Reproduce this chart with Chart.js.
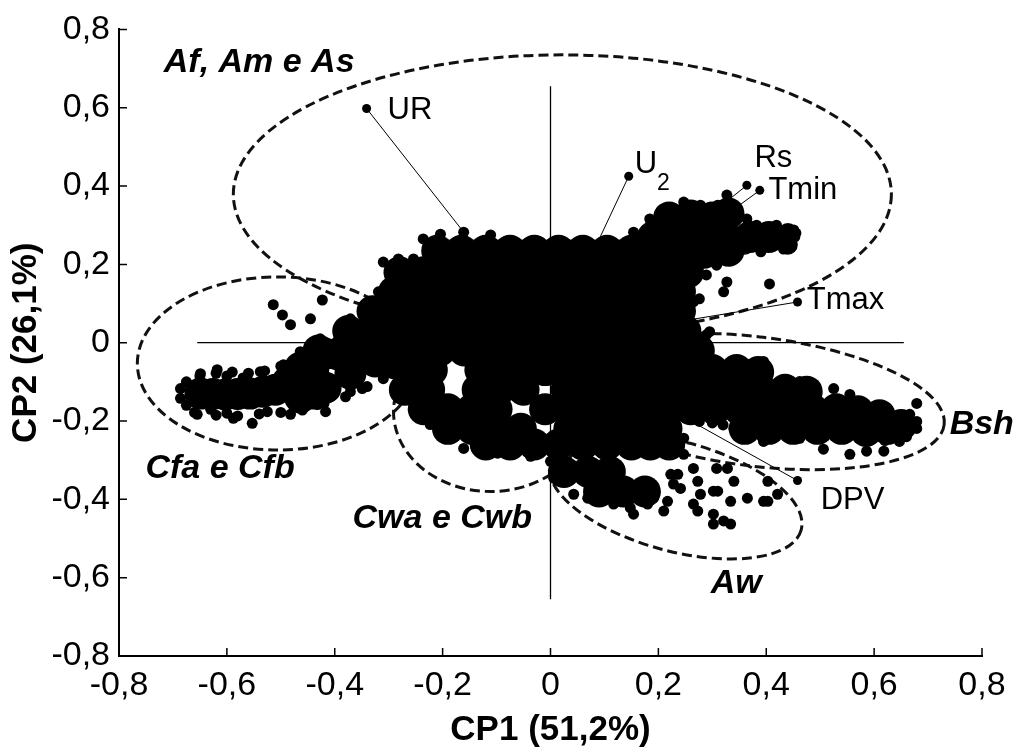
<!DOCTYPE html>
<html><head><meta charset="utf-8">
<script src="https://cdn.jsdelivr.net/npm/chart.js@4.4.1/dist/chart.umd.min.js"></script>
<style>html,body{margin:0;padding:0;background:#fff}canvas{display:block}</style>
</head><body>
<canvas id="c" width="1016" height="751"></canvas>
<script>
// ---------- tick values ----------
const xTickValues = [-0.8,-0.6,-0.4,-0.2,0,0.2,0.4,0.6,0.8];
const yTickValues = [-0.8,-0.6,-0.4,-0.2,0,0.2,0.4,0.6,0.8];

// ---------- variable loadings (vectors) ----------
const varNames = ['UR','U2','Rs','Tmin','Tmax','DPV'];
const loadX = [-0.341, 0.145, 0.364, 0.388, 0.458, 0.458];
const loadY = [ 0.598, 0.425, 0.402, 0.389, 0.104, -0.352];

// ---------- climate group names ----------
const groupNames = ['Af, Am e As','Cfa e Cfb','Cwa e Cwb','Bsh','Aw'];

// ---------- PCA scores (dense clusters) ----------
const cfaFill = [[-0.649,-0.13],[-0.626,-0.131],[-0.603,-0.132],[-0.58,-0.131],[-0.557,-0.13],[-0.533,-0.125],[-0.510,-0.12],
 [-0.487,-0.10],[-0.464,-0.064],[-0.464,-0.14],[-0.44,-0.07],[-0.44,-0.13],[-0.417,-0.028],[-0.417,-0.115],[-0.394,-0.03],
 [-0.371,0.018],[-0.371,-0.079],[-0.348,0.0],[-0.325,0.053],[-0.325,-0.048],[-0.30,0.07],[-0.30,-0.05]];
const armFill = [[0.22,0.32],[0.26,0.325],[0.30,0.32],[0.33,0.33],
 [0.19,0.27],[0.235,0.27],[0.28,0.27],[0.325,0.27],[0.37,0.27],[0.405,0.27],
 [0.195,0.23],[0.24,0.23],[0.285,0.23],[0.33,0.235]];
const armMid = [[0.36,0.25],[0.39,0.255],[0.425,0.265],[0.44,0.28],[0.44,0.25]];
const coreFill = [
 [-0.21,0.235],[-0.165,0.235],[-0.12,0.235],[-0.075,0.235],[-0.03,0.235],[0.015,0.235],[0.06,0.235],[0.105,0.235],[0.15,0.235],
 [-0.28,0.18],[-0.235,0.18],[-0.19,0.18],[-0.145,0.18],[-0.10,0.18],[-0.055,0.18],[-0.01,0.18],[0.035,0.18],[0.08,0.18],[0.125,0.18],[0.17,0.18],[0.215,0.18],[0.255,0.18],
 [-0.29,0.13],[-0.245,0.13],[-0.20,0.13],[-0.155,0.13],[-0.11,0.13],[-0.065,0.13],[-0.02,0.13],[0.025,0.13],[0.07,0.13],[0.115,0.13],[0.16,0.13],[0.205,0.13],[0.24,0.13],
 [-0.33,0.08],[-0.285,0.08],[-0.24,0.08],[-0.195,0.08],[-0.15,0.08],[-0.105,0.08],[-0.06,0.08],[-0.015,0.08],[0.03,0.08],[0.075,0.08],[0.12,0.08],[0.165,0.08],[0.21,0.08],[0.24,0.08],
 [-0.375,0.03],[-0.33,0.03],[-0.285,0.03],[-0.24,0.03],[-0.195,0.03],[-0.15,0.03],[-0.105,0.03],[-0.06,0.03],[-0.015,0.03],[0.03,0.03],[0.075,0.03],[0.12,0.03],[0.165,0.03],[0.21,0.03],[0.25,0.03],
 [-0.43,-0.02],[-0.385,-0.02],[-0.34,-0.02],[-0.295,-0.02],[-0.25,-0.02],[-0.205,-0.02],[-0.16,-0.02],[-0.115,-0.02],[-0.07,-0.02],[-0.025,-0.02],[0.02,-0.02],[0.065,-0.02],[0.11,-0.02],[0.155,-0.02],[0.20,-0.02],[0.245,-0.02],[0.275,-0.02],
 [-0.265,-0.07],[-0.22,-0.07],[-0.13,-0.07],[-0.10,-0.07],[-0.055,-0.07],[-0.01,-0.07],[0.035,-0.07],[0.08,-0.07],[0.125,-0.07],[0.17,-0.07],[0.215,-0.07],[0.26,-0.07],
 [-0.27,-0.12],[-0.225,-0.12],[-0.135,-0.12],[-0.095,-0.12],[-0.05,-0.12],[0.03,-0.12],[0.075,-0.12],[0.12,-0.12],[0.165,-0.12],[0.21,-0.12],[0.255,-0.12],
 [-0.235,-0.17],[-0.19,-0.17],[-0.145,-0.17],[-0.10,-0.17],[-0.01,-0.17],[0.035,-0.17],[0.08,-0.17],[0.125,-0.17],[0.17,-0.17],[0.215,-0.17],[0.26,-0.17],
 [-0.19,-0.22],[-0.145,-0.22],[-0.10,-0.22],[-0.055,-0.22],[0.035,-0.22],[0.08,-0.22],[0.125,-0.22],[0.17,-0.22],[0.215,-0.22],
 [-0.12,-0.26],[-0.075,-0.26],[-0.03,-0.26],[0.015,-0.26],[0.06,-0.26],[0.105,-0.26],[0.15,-0.26],[0.185,-0.26],[0.22,-0.26]];
const bshFill = [[0.30,-0.07],[0.345,-0.07],[0.385,-0.075],
 [0.30,-0.12],[0.345,-0.12],[0.39,-0.12],[0.435,-0.12],[0.475,-0.125],
 [0.305,-0.17],[0.35,-0.17],[0.395,-0.17],[0.44,-0.17],[0.485,-0.17],[0.53,-0.17],[0.57,-0.175],[0.61,-0.185],
 [0.36,-0.22],[0.405,-0.22],[0.45,-0.22],[0.495,-0.22],[0.54,-0.22],[0.585,-0.225],[0.625,-0.22],[0.65,-0.21]];
const awFill = [[0.025,-0.33],[0.07,-0.33],[0.11,-0.33],[0.09,-0.38],[0.135,-0.38],[0.175,-0.38]];

const cfaPts = [[-0.686,-0.117],[-0.686,-0.142],[-0.655,-0.183],[-0.649,-0.079],[-0.618,-0.069],[-0.588,-0.193],[-0.553,-0.206],
 [-0.538,-0.074],[-0.495,-0.056],[-0.514,0.097],[-0.497,0.071],[-0.482,0.046],[-0.464,-0.023],[-0.445,0.061],[-0.423,0.109],
 [-0.427,0.010],[-0.417,-0.176],[-0.371,0.061],[-0.349,-0.117],[-0.319,0.130],[-0.310,0.206],[-0.282,0.214],[-0.254,0.214],
 [-0.525,-0.176],[-0.482,-0.183],[-0.432,-0.158],[-0.371,-0.125],[-0.310,-0.092],[-0.60,-0.18],[-0.63,-0.17],[-0.57,-0.09],[-0.60,-0.085],
 [-0.65,-0.085],[-0.62,-0.078],[-0.59,-0.075],[-0.56,-0.078],[-0.53,-0.072],[-0.50,-0.06],[-0.66,-0.178],[-0.62,-0.185],[-0.58,-0.187],
 [-0.54,-0.182],[-0.50,-0.178],[-0.46,-0.172],[-0.42,-0.155],[-0.38,-0.138],[-0.34,-0.112],[-0.675,-0.16],[-0.675,-0.1]];
const corePts = [[-0.236,0.265],[-0.204,0.277],[-0.161,0.282],[-0.111,0.275],[-0.056,0.249],[-0.019,0.257],[0.032,0.249],[0.061,0.257],
 [0.093,0.252],[0.124,0.249],[0.154,0.282],[0.186,0.308],[0.184,0.316],[0.217,0.341],[0.247,0.359],[0.278,0.351],[0.310,0.351],
 [0.327,0.377],[0.345,0.341],[0.364,0.316],[0.382,0.300],[0.419,0.300],[0.451,0.288],[0.453,0.270],[0.432,0.239],[0.390,0.232],
 [0.340,0.214],[0.308,0.198],[0.276,0.198],[0.40,0.29],[0.455,0.28]];
const rightPts = [[0.289,0.173],[0.327,0.155],[0.406,0.150],[0.321,0.130],[0.276,0.112],[0.265,0.104],[0.202,0.087],[0.234,0.053],
 [0.295,0.028],[0.260,0.010],[0.273,-0.015],[0.241,0.137],[0.395,-0.048],[0.367,-0.056],[0.289,0.02]];
const bshPts = [[0.247,-0.048],[0.308,-0.048],[0.369,-0.056],[0.401,-0.081],[0.462,-0.099],[0.525,-0.117],[0.555,-0.132],[0.618,-0.168],
 [0.666,-0.183],[0.679,-0.201],[0.679,-0.219],[0.679,-0.155],[0.647,-0.252],[0.618,-0.277],[0.586,-0.277],[0.555,-0.285],[0.506,-0.272],
 [0.462,-0.244],[0.401,-0.234],[0.395,-0.252],[0.364,-0.234],[0.340,-0.219],[0.276,-0.201],[0.215,-0.219],[0.247,-0.244],[0.184,-0.285],
 [0.247,-0.285],[0.308,-0.321],[0.30,-0.205],[0.32,-0.21],[0.66,-0.24],[0.63,-0.19],[0.60,-0.18],[0.62,-0.25],[0.58,-0.16]];
const lowerPts = [[-0.306,-0.048],[-0.293,-0.079],[-0.223,-0.209],[-0.217,-0.183],[-0.191,-0.234],[-0.161,-0.270],[-0.130,-0.277],
 [-0.098,-0.282],[-0.069,-0.285],[-0.037,-0.290],[0.0,-0.303],[0.006,-0.346],[0.019,-0.354],[0.043,-0.387],[0.069,-0.397],[0.093,-0.405],
 [0.117,-0.412],[0.148,-0.422],[0.180,-0.412],[0.191,-0.397],[0.154,-0.438],[0.111,-0.303],[0.032,-0.321],[-0.284,-0.107],[-0.260,-0.117],
 [-0.228,-0.150],[-0.191,-0.168]];
const awPts = [[0.223,-0.336],[0.241,-0.372],[0.273,-0.354],[0.302,-0.379],[0.334,-0.405],[0.321,-0.455],[0.302,-0.463],[0.365,-0.397],
 [0.403,-0.405],[0.265,-0.412],[0.273,-0.430],[0.210,-0.430],[0.217,-0.405],[0.106,-0.303],[0.328,-0.321],[0.340,-0.354],[0.395,-0.405],
 [0.403,-0.354],[0.421,-0.387],[0.265,-0.321],[0.236,-0.336],[0.228,-0.361],[0.302,-0.438],[0.334,-0.463],[0.278,-0.387],[0.310,-0.379]];

// ---------- annotation layout (not data) ----------
const ellipses = [
 {cx:0.022, cy:0.379, rx:0.610, ry:0.356, rot:0},
 {cx:-0.506, cy:-0.053, rx:0.260, ry:0.221, rot:0},
 {cx:-0.111, cy:-0.176, rx:0.180, ry:0.204, rot:0},
 {cx:0.380, cy:-0.150, rx:0.3525, ry:0.165, rot:7},
 {cx:0.232, cy:-0.392, rx:0.241, ry:0.140, rot:15}
];
const varLabelPos = [[-0.302,0.570],[0.156,0.433],[0.378,0.448],[0.404,0.366],[0.475,0.087],[0.501,-0.425]];
const groupLabelPos = [[-0.717,0.690],[-0.751,-0.346],[-0.367,-0.473],[0.740,-0.234],[0.297,-0.639]];
const crossExtent = 0.655;

const FONT = '"Liberation Sans", Arial, sans-serif';
const fmt = v => Math.abs(v) < 1e-9 ? '0' : v.toFixed(1).replace('.', ',');
const toPts = arr => arr.map(p => ({x:p[0], y:p[1]}));

const bigFill = [...cfaFill, ...armFill, ...coreFill, ...bshFill, ...awFill];
const smallPts = [...cfaPts, ...corePts, ...rightPts, ...bshPts, ...lowerPts, ...awPts];

const dotStyle = {pointBackgroundColor:'#000', pointBorderWidth:0, pointBorderColor:'#000', order:1};
const datasets = [
 {data: toPts(bigFill), pointRadius: 16, pointHoverRadius: 16, ...dotStyle},
 {data: toPts(armMid), pointRadius: 10, pointHoverRadius: 10, ...dotStyle},
 {data: toPts(smallPts), pointRadius: 5.5, pointHoverRadius: 5.5, ...dotStyle}
];
varNames.forEach((n,i) => datasets.push({
 label:n, data:[{x:0,y:0},{x:loadX[i],y:loadY[i]}], showLine:true, borderColor:'#000', borderWidth:1,
 pointRadius:[0,4.5], pointHoverRadius:[0,4.5], pointBackgroundColor:'#000', pointBorderWidth:0, order:5
}));

const underlay = {
 id:'underlay',
 beforeDatasetsDraw(chart){
  const {ctx, scales:{x,y}} = chart;
  ctx.save();
  ctx.strokeStyle = '#111'; ctx.lineWidth = 3; ctx.setLineDash([10,5]);
  ellipses.forEach(e => {
   const cx = x.getPixelForValue(e.cx), cy = y.getPixelForValue(e.cy);
   const a = Math.abs(x.getPixelForValue(e.cx + e.rx) - cx);
   const b = Math.abs(y.getPixelForValue(e.cy + e.ry) - cy);
   ctx.beginPath(); ctx.ellipse(cx, cy, a, b, e.rot*Math.PI/180, 0, 2*Math.PI); ctx.stroke();
  });
  ctx.setLineDash([]); ctx.strokeStyle = '#000'; ctx.lineWidth = 1.3;
  ctx.beginPath();
  ctx.moveTo(x.getPixelForValue(-crossExtent), y.getPixelForValue(0));
  ctx.lineTo(x.getPixelForValue(crossExtent), y.getPixelForValue(0));
  ctx.moveTo(x.getPixelForValue(0), y.getPixelForValue(crossExtent));
  ctx.lineTo(x.getPixelForValue(0), y.getPixelForValue(-crossExtent));
  ctx.stroke();
  ctx.restore();
 }
};

const overlay = {
 id:'overlay',
 afterDatasetsDraw(chart){
  const {ctx, scales:{x,y}} = chart;
  ctx.save();
  ctx.fillStyle = '#000'; ctx.textAlign = 'left'; ctx.textBaseline = 'alphabetic';
  ctx.font = '31px ' + FONT;
  varNames.forEach((n,i) => {
   const px = x.getPixelForValue(varLabelPos[i][0]), py = y.getPixelForValue(varLabelPos[i][1]);
   if (n === 'U2') {
    ctx.font = '31px ' + FONT; ctx.fillText('U', px, py);
    const w = ctx.measureText('U').width;
    ctx.font = '23px ' + FONT; ctx.fillText('2', px + w, py + 17);
    ctx.font = '31px ' + FONT;
   } else ctx.fillText(n, px, py);
  });
  ctx.font = 'italic bold 34px ' + FONT;
  groupNames.forEach((g,i) => {
   ctx.fillText(g, x.getPixelForValue(groupLabelPos[i][0]), y.getPixelForValue(groupLabelPos[i][1]));
  });
  ctx.restore();
 },
 afterDraw(chart){
  const {ctx, chartArea:a, scales:{x,y}} = chart;
  ctx.save(); ctx.strokeStyle = '#000'; ctx.lineWidth = 1.5;
  ctx.beginPath();
  xTickValues.forEach(v => { const px = x.getPixelForValue(v); ctx.moveTo(px, a.bottom); ctx.lineTo(px, a.bottom - 8); });
  yTickValues.forEach(v => { const py = y.getPixelForValue(v); ctx.moveTo(a.left, py); ctx.lineTo(a.left + 8, py); });
  ctx.stroke(); ctx.restore();
 }
};

new Chart(document.getElementById('c'), {
 type:'scatter',
 data:{datasets},
 options:{
  responsive:false, animation:false, devicePixelRatio:1, events:[],
  layout:{padding:{top:27, right:34, bottom:0, left:0}},
  plugins:{legend:{display:false}, tooltip:{enabled:false}},
  scales:{
   x:{type:'linear', min:-0.8, max:0.8,
    afterBuildTicks: s => { s.ticks = xTickValues.map(v => ({value:v})); },
    afterFit: s => { s.height = 95; },
    grid:{display:true, drawOnChartArea:false, drawTicks:false},
    border:{display:true, color:'#000', width:2},
    ticks:{callback: fmt, color:'#000', padding:9, maxRotation:0, autoSkip:false, font:{family:FONT, size:34}},
    title:{display:true, text:'CP1 (51,2%)', color:'#000', font:{family:FONT, size:35, weight:'bold'}, padding:{top:0,bottom:0}}
   },
   y:{type:'linear', min:-0.8, max:0.8,
    afterBuildTicks: s => { s.ticks = yTickValues.map(v => ({value:v})); },
    afterFit: s => { s.width = 119; },
    grid:{display:true, drawOnChartArea:false, drawTicks:false},
    border:{display:true, color:'#000', width:2},
    ticks:{callback: fmt, color:'#000', padding:9, autoSkip:false, font:{family:FONT, size:34}},
    title:{display:true, text:'CP2 (26,1%)', color:'#000', font:{family:FONT, size:35, weight:'bold'}, padding:{top:5,bottom:0}}
   }
  }
 },
 plugins:[underlay, overlay]
});
</script>
</body></html>
